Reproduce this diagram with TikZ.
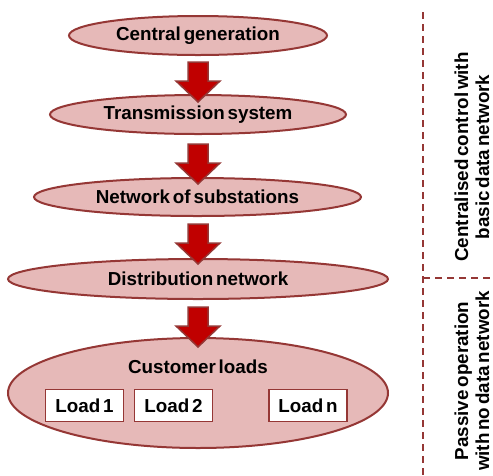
\documentclass[tikz,border=0pt]{standalone}
\usepackage{fontspec}
\setmainfont[WordSpace=0.55]{Liberation Sans}
\usetikzlibrary{shapes.geometric}
\definecolor{rimred}{HTML}{953735}
\definecolor{pinkfill}{HTML}{E6B9B8}
\definecolor{arrowred}{HTML}{C00000}
\newcommand\labelfont{\fontsize{18.8}{21}\selectfont\bfseries}
\tikzset{
  stage/.style={ellipse, draw=rimred, fill=pinkfill, line width=2pt, inner sep=0pt,
                font=\labelfont},
  loadbox/.style={rectangle, draw=rimred, fill=white, line width=1.5pt, inner sep=0pt,
                  minimum width=78pt, minimum height=32pt, font=\labelfont},
  tag/.style={font=\labelfont, align=center, rotate=90, inner sep=0pt},
  caption/.style={font=\labelfont, inner sep=0pt},
  flowarrow/.style={draw=rimred, fill=arrowred, line width=1.5pt, line join=miter},
  divider/.style={draw=rimred, line width=2pt, dash pattern=on 7pt off 5pt}
}
\begin{document}
\begin{tikzpicture}[x=1pt, y=-1pt]
  \useasboundingbox (0,0) rectangle (493,475);

  % hierarchy of the power system
  \node[stage, minimum width=258pt, minimum height=39pt] (gen) at (198,35.5) {Central generation};
  \node[stage, minimum width=296pt, minimum height=39pt] (trans) at (198,114.5) {Transmission system};
  \node[stage, minimum width=327pt, minimum height=38pt] (subst) at (197.5,197) {Network of substations};
  \node[stage, minimum width=380pt, minimum height=40pt] (dist) at (198,279) {Distribution network};
  \node[stage, minimum width=380pt, minimum height=110pt] (cust) at (198,393) {};
  \node[caption] (custlabel) at (198,367) {Customer loads};

  % individual loads
  \node[loadbox] (load1) at (84.5,405.5) {Load 1};
  \node[loadbox] (load2) at (173.5,405.5) {Load 2};
  \node[loadbox] (loadn) at (308,405.5) {Load n};

  % block arrows between the stages
  \foreach \ytop in {62,144,224,307} {
    \path[flowarrow] (188,\ytop) -- (208,\ytop) -- (208,\ytop+19) -- (220,\ytop+19)
      -- (198,\ytop+40) -- (176,\ytop+19) -- (188,\ytop+19) -- cycle;
  }

  % control regimes on the right
  \coordinate (divtop) at (423,12);
  \coordinate (divbot) at (423,475);
  \coordinate (divmid) at (423,278);
  \coordinate (divend) at (493,278);
  \draw[divider] (divtop) -- (divbot);
  \draw[divider] (divmid) -- (divend);
  \node[tag] (central) at (472,157) {Centralised control with\\basic data network};
  \node[tag] (passive) at (472,381) {Passive operation\\with no data network};
\end{tikzpicture}
\end{document}
